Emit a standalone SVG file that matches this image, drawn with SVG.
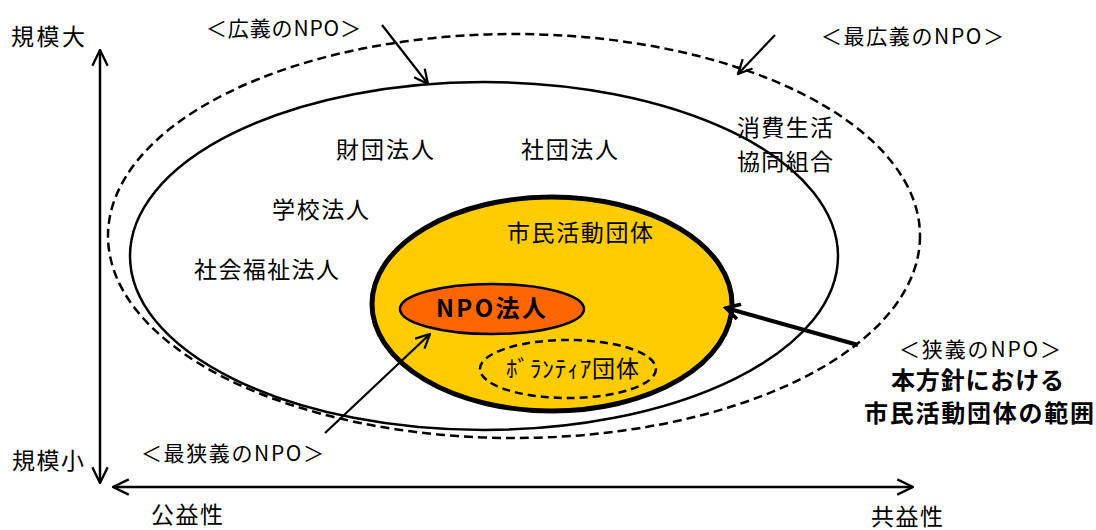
<svg xmlns="http://www.w3.org/2000/svg" width="1096" height="530" viewBox="0 0 1096 530">
<style>
text{font-family:"Noto Sans CJK JP","Liberation Sans",sans-serif;fill:#000}
.t{font-size:23px}
.s{font-size:21px}
.b{font-size:24px;font-weight:bold}
.ln{stroke:#000;stroke-width:2.5;fill:none}
</style>
<defs>
<marker id="ah" viewBox="0 0 20 20" refX="18.5" refY="10" markerWidth="18" markerHeight="18" markerUnits="userSpaceOnUse" orient="auto-start-reverse">
<path d="M1,1.5 L18.5,10 L1,18.5" fill="none" stroke="#000" stroke-width="2.6"/>
</marker>
<marker id="ahs" viewBox="0 0 20 20" refX="18.5" refY="10" markerWidth="16" markerHeight="16" markerUnits="userSpaceOnUse" orient="auto">
<path d="M1,1.5 L18.5,10 L1,18.5" fill="none" stroke="#000" stroke-width="2.8"/>
</marker>
<marker id="ahb" viewBox="0 0 20 20" refX="17" refY="10" markerWidth="18" markerHeight="18" markerUnits="userSpaceOnUse" orient="auto">
<path d="M2,1.5 L17,10 L2,18.5" fill="none" stroke="#000" stroke-width="4"/>
</marker>
</defs>
<rect width="1096" height="530" fill="#fff"/>

<g id="widest-npo">
<ellipse cx="514" cy="236" rx="406" ry="202" class="ln" stroke-dasharray="9 5"/>
</g>
<g id="broad-npo">
<ellipse cx="484" cy="256" rx="354" ry="174" class="ln"/>
</g>
<g id="civic-groups">
<ellipse cx="552" cy="304" rx="180" ry="107" fill="#FFCC00" stroke="#000" stroke-width="5"/>
</g>
<g id="npo-corp">
<ellipse cx="492" cy="309" rx="92" ry="25" fill="#FF6600" stroke="#000" stroke-width="2.5"/>
<text class="b" x="436" y="317" textLength="110">NPO法人</text>
</g>
<g id="volunteer">
<ellipse cx="568" cy="369" rx="88" ry="29" fill="none" stroke="#000" stroke-width="2.5" stroke-dasharray="8 5"/>
<text class="t" x="506" y="377" textLength="133">ﾎﾞﾗﾝﾃｨｱ団体</text>
</g>

<g id="labels">
<text class="t" x="336" y="158" textLength="98">財団法人</text>
<text class="t" x="521" y="158" textLength="97">社団法人</text>
<text class="t" x="272" y="218" textLength="97">学校法人</text>
<text class="t" x="507" y="241" textLength="146">市民活動団体</text>
<text class="t" x="194" y="278" textLength="145">社会福祉法人</text>
<text class="t" x="737" y="136" textLength="96">消費生活</text>
<text class="t" x="737" y="170" textLength="96">協同組合</text>
<text class="t" x="11" y="45" textLength="74">規模大</text>
<text class="t" x="12" y="469" textLength="72">規模小</text>
<text class="t" x="151" y="523" textLength="72">公益性</text>
<text class="t" x="871" y="525" textLength="72">共益性</text>
<text class="s" x="206" y="36" textLength="155">＜広義のNPO＞</text>
<text class="s" x="821" y="44" textLength="183">＜最広義のNPO＞</text>
<text class="s" x="899" y="357" textLength="162">＜狭義のNPO＞</text>
<text class="s" x="141" y="461" textLength="183">＜最狭義のNPO＞</text>
<text class="b" x="891" y="389" textLength="173">本方針における</text>
<text class="b" x="864" y="422" textLength="230">市民活動団体の範囲</text>
</g>

<g id="connectors">
<line x1="100" y1="50" x2="100" y2="483" class="ln" marker-start="url(#ah)" marker-end="url(#ah)"/>
<line x1="113" y1="487" x2="913" y2="487" class="ln" marker-start="url(#ah)" marker-end="url(#ah)"/>
<line x1="382" y1="25" x2="428" y2="84" stroke="#000" stroke-width="2.2" marker-end="url(#ahs)"/>
<line x1="775" y1="35" x2="738" y2="74" stroke="#000" stroke-width="2.2" marker-end="url(#ahs)"/>
<line x1="325" y1="433" x2="430" y2="334" stroke="#000" stroke-width="2.2" marker-end="url(#ahs)"/>
<line x1="858" y1="345" x2="726" y2="308" stroke="#000" stroke-width="4" marker-end="url(#ahb)"/>
</g>
</svg>
